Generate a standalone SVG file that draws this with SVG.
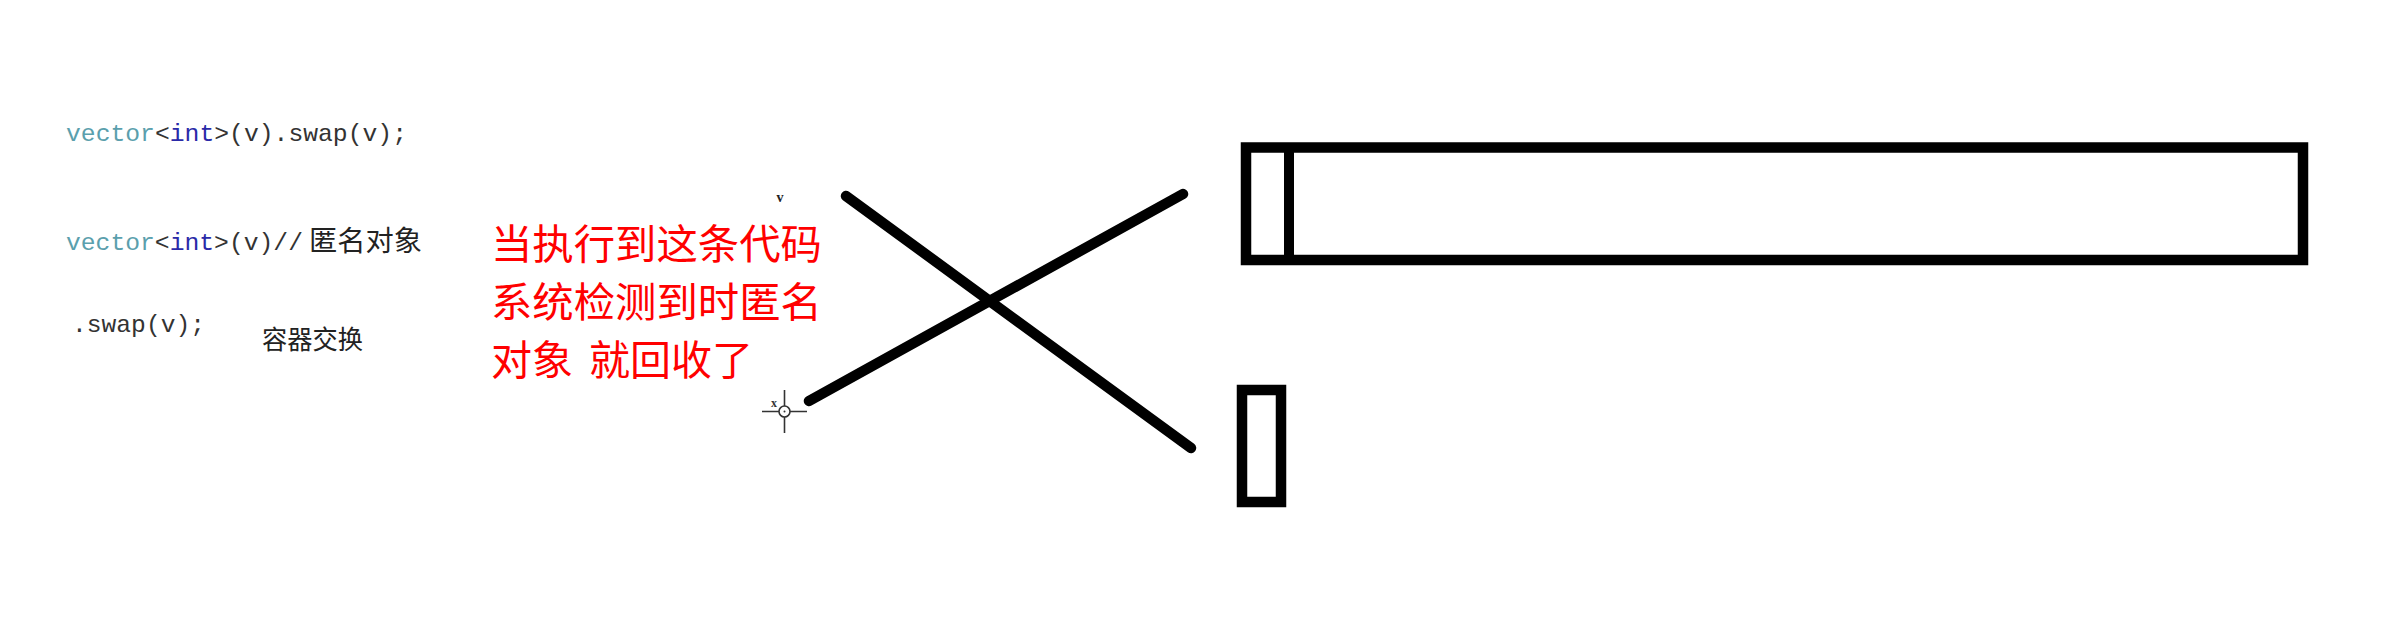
<svg xmlns="http://www.w3.org/2000/svg" width="2384" height="622" viewBox="0 0 2384 622">
<style>
.code{font-family:"Liberation Mono","DejaVu Sans Mono",monospace;font-size:24.6px;fill:#333}
.kw{fill:#5b9fad}
.ty{fill:#2a2aa8}
.cjk{font-family:"Noto Sans CJK SC","Noto Sans CJK JP",sans-serif;fill:#222}
.red{font-family:"Noto Sans CJK SC","Noto Sans CJK JP",sans-serif;font-size:41px;fill:#ff0000}
.box{fill:none;stroke:#000;stroke-width:10.5}
.stroke{stroke:#000;stroke-width:10.5;stroke-linecap:round;fill:none}
.cur{stroke:#333;stroke-width:1.6;fill:none}
</style>
<rect width="2384" height="622" fill="#fff"/>
<g id="code1">
<text class="code" x="66" y="141" textLength="341" lengthAdjust="spacingAndGlyphs"><tspan class="kw">vector</tspan>&lt;<tspan class="ty">int</tspan>&gt;(v).swap(v);</text>
</g>
<g id="code2">
<text class="code" x="66" y="250" textLength="237" lengthAdjust="spacingAndGlyphs"><tspan class="kw">vector</tspan>&lt;<tspan class="ty">int</tspan>&gt;(v)//</text>
<text class="cjk" x="309" y="251" font-size="28" textLength="113" lengthAdjust="spacingAndGlyphs">匿名对象</text>
</g>
<g id="code3">
<text class="code" x="72" y="332" textLength="133" lengthAdjust="spacingAndGlyphs">.swap(v);</text>
<text class="cjk" x="262" y="349" font-size="26" textLength="101" lengthAdjust="spacingAndGlyphs">容器交换</text>
</g>
<g id="note">
<text class="red" x="491" y="259" textLength="331" lengthAdjust="spacingAndGlyphs">当执行到这条代码</text>
<text class="red" x="491" y="317" textLength="331" lengthAdjust="spacingAndGlyphs">系统检测到时匿名</text>
<text class="red" x="491" y="375">对象<tspan x="589">就回收了</tspan></text>
</g>
<g id="label-v">
<text x="780" y="202" font-family="Liberation Serif,serif" font-weight="bold" font-size="14" fill="#222" text-anchor="middle">v</text>
</g>
<g id="big-box">
<rect class="box" x="1246" y="147.5" width="1057" height="112.5"/>
<line x1="1289" y1="147.5" x2="1289" y2="260" stroke="#000" stroke-width="10"/>
</g>
<g id="small-box">
<rect class="box" x="1242" y="390" width="39" height="112"/>
</g>
<g id="connectors">
<line class="stroke" x1="846" y1="196" x2="1191" y2="448"/>
<line class="stroke" x1="809" y1="401" x2="1183" y2="194"/>
</g>
<g id="cursor">
<line class="cur" x1="762" y1="411.5" x2="807" y2="411.5"/>
<line class="cur" x1="784.5" y1="390" x2="784.5" y2="433"/>
<circle cx="784.5" cy="411.5" r="5.5" fill="#fff" stroke="#333" stroke-width="1.6"/>
<circle cx="784.5" cy="411.5" r="1" fill="#333"/>
<text x="774" y="407" font-family="Liberation Serif,serif" font-weight="bold" font-size="12" fill="#333" text-anchor="middle">x</text>
</g>
</svg>
